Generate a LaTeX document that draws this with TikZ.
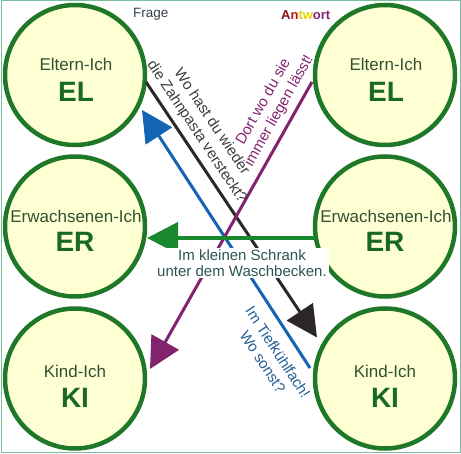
\documentclass[tikz,border=0pt]{standalone}
\usepackage{fontspec}
\setmainfont{Liberation Sans}
\usetikzlibrary{arrows.meta,calc}
\definecolor{cfill}{RGB}{255,255,212}
\definecolor{cring}{RGB}{30,120,40}
\definecolor{cgreen}{RGB}{25,135,45}
\definecolor{cblack}{RGB}{45,40,40}
\definecolor{cblue}{RGB}{20,100,180}
\definecolor{cpurple}{RGB}{130,35,110}
\definecolor{csmall}{RGB}{50,80,50}
\definecolor{cbig}{RGB}{25,105,35}
\definecolor{cframe}{RGB}{120,190,160}
\definecolor{cmid}{RGB}{45,85,85}
\definecolor{cbtext}{RGB}{60,60,60}
\definecolor{cbluetext}{RGB}{35,95,150}
\definecolor{cfrage}{RGB}{50,65,80}
\definecolor{cdred}{RGB}{130,20,20}
\definecolor{cred}{RGB}{190,20,20}
\definecolor{cyellow}{RGB}{225,210,0}
\begin{document}
\begin{tikzpicture}[x=1pt,y=-1pt,
  ego/.style={circle,draw=cring,fill=cfill,line width=4.5pt,minimum size=140pt,inner sep=0pt},
  small/.style={anchor=base,text=csmall,font=\fontsize{17}{20}\selectfont,inner sep=0pt},
  big/.style={anchor=base,text=cbig,font=\fontsize{28}{32}\selectfont\bfseries,inner sep=0pt},
  arr/.style={line width=3pt,-{Triangle[length=31pt,width=31pt]}},
  msg/.style={font=\fontsize{15}{18}\selectfont,align=center,inner sep=0pt}]
\useasboundingbox (0,0) rectangle (461,454);
\draw[cframe,line width=1pt] (1,1) rectangle (460,453);

\node[ego] (EL1) at (75,75) {};
\node[ego] (ER1) at (75,226.5) {};
\node[ego] (KI1) at (75,378.5) {};
\node[ego] (EL2) at (385,75) {};
\node[ego] (ER2) at (385,226.5) {};
\node[ego] (KI2) at (385,378.5) {};

\node[small] (tEL1) at ($(EL1)+(1,-4)$) {Eltern-Ich};
\node[big] (bEL1) at ($(EL1)+(1,27)$) {EL};
\node[small] (tEL2) at ($(EL2)+(1,-4)$) {Eltern-Ich};
\node[big] (bEL2) at ($(EL2)+(1,27)$) {EL};
\node[small] (tER1) at ($(ER1)+(1,-3.5)$) {Erwachsenen-Ich};
\node[big] (bER1) at ($(ER1)+(0,25.5)$) {ER};
\node[small] (tER2) at ($(ER2)+(1,-3.5)$) {Erwachsenen-Ich};
\node[big] (bER2) at ($(ER2)+(0,25.5)$) {ER};
\node[small] (tKI1) at ($(KI1)+(0,-0.5)$) {Kind-Ich};
\node[big] (bKI1) at ($(KI1)+(0,29.5)$) {KI};
\node[small] (tKI2) at ($(KI2)+(0,-0.5)$) {Kind-Ich};
\node[big] (bKI2) at ($(KI2)+(0,29.5)$) {KI};

\coordinate (bS) at ($(EL1)+(71,7)$);
\coordinate (bE) at ($(KI2)+(-68,-41)$);
\coordinate (uS) at ($(KI2)+(-75,-10.5)$);
\coordinate (uE) at ($(EL1)+(67,35)$);
\coordinate (pS) at ($(EL2)+(-73,7)$);
\coordinate (pE) at ($(KI1)+(75,-9.5)$);
\coordinate (gS) at ($(ER2)+(-70,11.5)$);
\coordinate (gE) at ($(ER1)+(72,11.5)$);

\draw[arr,cblack] (bS) -- (bE);
\draw[arr,cblue] (uS) -- (uE);
\draw[arr,cpurple] (pS) -- (pE);
\draw[arr,cgreen,line width=4pt] (gS) -- (gE);

\node[msg,text=cbtext,rotate=-56.3] (qtext) at (204,127) {Wo hast du wieder\\die Zahnpasta versteckt?};
\node[msg,text=cpurple,rotate=60.6] (atext) at (271.5,106.5) {Dort wo du sie\\immer liegen lässt!};
\node[msg,text=cbluetext,rotate=-56.9] (btext) at (270.5,357) {Im Tiefkühlfach!\\Wo sonst?};
\node[msg,text=cmid,fill=white,inner sep=2pt,font=\fontsize{15}{15.5}\selectfont] (gtext) at (242,263) {Im kleinen Schrank\\unter dem Waschbecken.};

\node[anchor=base west,font=\fontsize{13.5}{16}\selectfont,text=cfrage,inner sep=0pt] (frage) at (133,18) {Frage};
\node[anchor=base west,font=\bfseries\fontsize{13}{16}\selectfont,inner sep=0pt] (antwort) at (281,20) {\textcolor{cdred}{A}\textcolor{cred}{n}\textcolor{cyellow}{tw}\textcolor{cpurple}{ort}};
\end{tikzpicture}
\end{document}
